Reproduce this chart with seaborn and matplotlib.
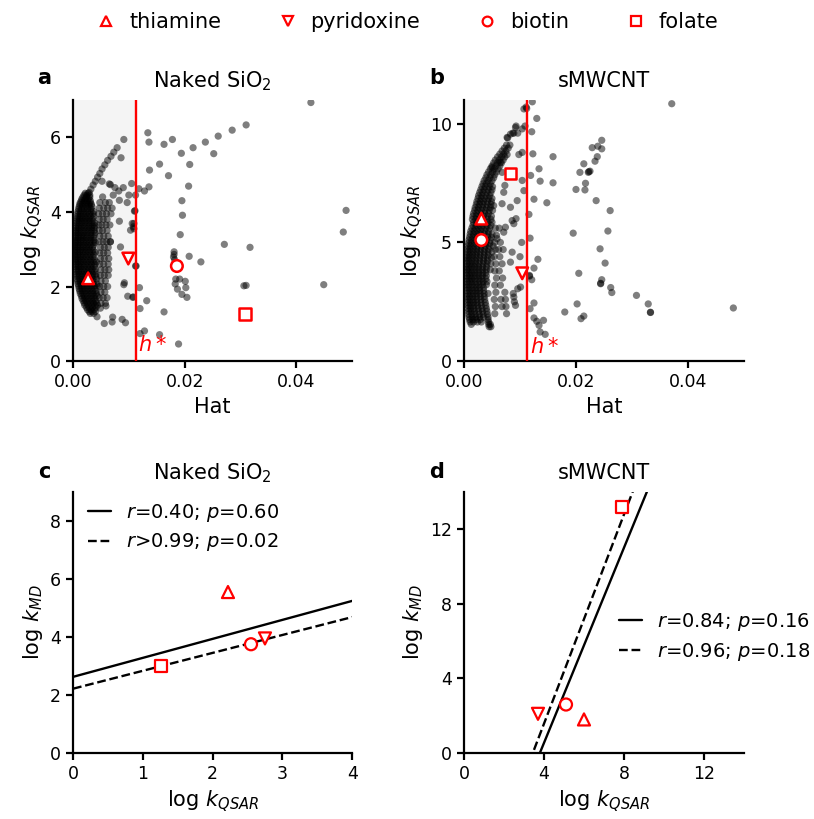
import matplotlib

matplotlib.use("Agg")

import matplotlib.pyplot as plt
from matplotlib.lines import Line2D
import numpy as np
import pandas as pd
import seaborn as sns


VITAMINS = ["thiamine", "pyridoxine", "biotin", "folate"]
MARKERS = {"thiamine": "^", "pyridoxine": "v", "biotin": "o", "folate": "s"}

# vitamins: hat and log k_QSAR (panels a/b), log k_MD (panels c/d)
SIO2_HAT = [0.0027, 0.0099, 0.0186, 0.0308]
SIO2_QSAR = [2.22, 2.75, 2.55, 1.26]
SIO2_MD = [5.55, 3.95, 3.75, 3.00]
CNT_HAT = [0.0031, 0.0104, 0.0031, 0.0083]
CNT_QSAR = [6.00, 3.70, 5.10, 7.90]
CNT_MD = [1.80, 2.10, 2.60, 13.20]
H_STAR = 0.0112

SIO2_LABELS = ["$r$=0.40; $p$=0.60", "$r$>0.99; $p$=0.02"]
CNT_LABELS = ["$r$=0.84; $p$=0.16", "$r$=0.96; $p$=0.18"]

# training chemicals, hat in units of 1e-3, grouped by log k_QSAR rows
SIO2_CORE = [
    (4.50, [2.2, 2.7]),
    (4.45, [2.0, 2.5, 3.0]),
    (4.40, [1.8, 2.4, 3.0]),
    (4.35, [1.6, 2.2, 2.8]),
    (4.30, [1.5, 2.0, 2.6, 3.1]),
    (4.25, [1.3, 1.9, 2.5, 3.1]),
    (4.20, [1.2, 1.7, 2.3, 2.9, 3.3]),
    (4.14, [1.1, 1.7, 2.3, 2.9, 3.4]),
    (4.08, [1.0, 1.5, 2.0, 2.6, 3.2]),
    (4.01, [0.9, 1.4, 2.0, 2.6, 3.2, 3.7]),
    (3.95, [0.8, 1.3, 1.9, 2.4, 3.0, 3.6]),
    (3.88, [0.8, 1.3, 1.9, 2.5, 3.1, 3.7]),
    (3.82, [0.7, 1.2, 1.7, 2.3, 2.9, 3.5]),
    (3.76, [0.6, 1.1, 1.7, 2.3, 2.9, 3.5]),
    (3.70, [0.6, 1.1, 1.6, 2.2, 2.8, 3.4, 3.9]),
    (3.63, [0.5, 1.0, 1.6, 2.2, 2.8, 3.4, 3.9]),
    (3.57, [0.5, 1.0, 1.5, 2.1, 2.7, 3.3, 3.8]),
    (3.50, [0.4, 0.9, 1.5, 2.1, 2.7, 3.3, 3.8]),
    (3.44, [0.5, 0.9, 1.4, 2.0, 2.6, 3.2, 3.9]),
    (3.37, [0.4, 0.9, 1.5, 2.0, 2.6, 3.2, 3.8]),
    (3.31, [0.4, 0.9, 1.4, 1.9, 2.5, 3.1, 3.7]),
    (3.24, [0.3, 0.8, 1.4, 1.9, 2.5, 3.1, 3.7]),
    (3.18, [0.4, 0.8, 1.3, 1.9, 2.4, 3.0, 3.6, 4.0]),
    (3.11, [0.3, 0.8, 1.3, 1.9, 2.5, 3.1, 3.7]),
    (3.05, [0.3, 0.8, 1.3, 1.8, 2.4, 2.9, 3.5]),
    (2.98, [0.3, 0.7, 1.3, 1.8, 2.4, 3.0, 3.6]),
    (2.92, [0.3, 0.8, 1.2, 1.8, 2.3, 2.9, 3.5, 4.0]),
    (2.85, [0.3, 0.8, 1.3, 1.9, 2.5, 3.1, 3.7]),
    (2.79, [0.4, 0.8, 1.3, 1.8, 2.4, 3.0, 3.6]),
    (2.72, [0.4, 0.8, 1.4, 2.0, 2.6, 3.2, 3.8]),
    (2.66, [0.4, 0.9, 1.4, 1.9, 2.5, 3.1, 3.7, 4.2]),
    (2.59, [0.4, 0.9, 1.5, 2.1, 2.7, 3.3, 3.9]),
    (2.53, [0.5, 1.0, 1.4, 2.0, 2.6, 3.2, 3.8]),
    (2.46, [0.5, 1.0, 1.6, 2.2, 2.8, 3.4, 4.0]),
    (2.40, [0.6, 1.0, 1.5, 2.1, 2.7, 3.3, 3.9]),
    (2.33, [0.6, 1.1, 1.7, 2.3, 2.9, 3.5, 4.1]),
    (2.27, [0.7, 1.1, 1.6, 2.2, 2.8, 3.4, 4.1]),
    (2.20, [0.7, 1.2, 1.8, 2.4, 3.0, 3.6, 4.2]),
    (2.14, [0.8, 1.3, 1.8, 2.4, 3.0, 3.6]),
    (2.07, [0.9, 1.4, 1.9, 2.5, 3.1, 3.7, 4.3]),
    (2.01, [1.0, 1.5, 2.0, 2.6, 3.2, 3.8, 4.3]),
    (1.94, [1.1, 1.6, 2.1, 2.7, 3.3, 3.9]),
    (1.88, [1.2, 1.7, 2.3, 2.9, 3.5, 4.1]),
    (1.81, [1.3, 1.8, 2.4, 3.0, 3.6, 4.2]),
    (1.75, [1.5, 2.0, 2.6, 3.2, 3.8, 4.3]),
    (1.68, [1.6, 2.1, 2.7, 3.3, 3.9]),
    (1.62, [1.8, 2.3, 2.9, 3.5, 4.1]),
    (1.56, [2.0, 2.5, 3.1, 3.7, 4.2]),
    (1.50, [2.1, 2.7, 3.3, 3.9, 4.4]),
    (1.44, [2.4, 2.9, 3.5, 4.1]),
    (1.38, [2.6, 3.2, 3.8]),
    (1.33, [2.9, 3.4, 4.0]),
    (1.28, [3.1, 3.7]),
]
SIO2_BAND = [
    (4.40, [5.3]),
    (4.25, [4.8, 5.8, 6.5]),
    (4.10, [4.7, 5.5, 6.2, 7.0]),
    (3.95, [4.6, 5.3, 6.0, 6.8]),
    (3.80, [4.7, 5.4, 6.1]),
    (3.65, [4.6, 5.2, 5.9, 6.6]),
    (3.50, [4.7, 5.3, 6.1]),
    (3.35, [4.8, 5.5, 6.3]),
    (3.20, [4.7, 5.4, 6.0, 6.7]),
    (3.05, [4.9, 5.6, 6.3]),
    (2.90, [4.8, 5.5, 6.2]),
    (2.75, [4.9, 5.6, 6.4]),
    (2.60, [4.8, 5.5, 6.3]),
    (2.45, [5.0, 5.7, 6.4]),
    (2.30, [4.9, 5.6, 6.3]),
    (2.15, [5.0, 5.8]),
    (2.00, [4.8, 5.5, 6.2]),
    (1.85, [5.0, 5.7]),
    (1.70, [4.7, 5.4, 6.1]),
    (1.55, [5.0, 5.8]),
    (1.42, [4.9]),
]
SIO2_SPARSE_HAT = [
    7.9, 7.3, 6.8, 6.2, 5.7, 5.2, 4.8, 4.4, 4.0, 3.6, 3.2, 2.9,
    9.1, 8.6, 5.2, 6.7, 8.2, 10.5, 10.0, 8.3, 9.7, 11.0, 8.3, 10.6, 10.3, 8.5,
    6.7, 11.3, 9.2, 9.8, 10.7, 5.9, 4.3, 5.6, 7.1, 8.8, 9.4, 7.0, 7.5, 6.5,
    9.0, 7.2, 9.1,
    42.6, 31.0, 28.5, 26.0, 23.7, 21.5, 19.4, 17.8, 16.3, 13.6, 13.4, 25.2,
    20.9, 15.5, 17.1, 13.7, 13.6, 20.7, 19.5, 19.6, 19.2, 12.8, 11.8, 11.2,
    11.1, 10.9, 10.8, 10.9, 18.1, 18.1, 18.0, 18.2, 18.4, 19.1, 20.1, 18.3,
    20.2, 18.7, 19.5, 20.4, 20.8, 22.9, 27.1, 31.7, 48.9, 48.4, 44.9, 31.0,
    30.6, 11.2, 11.9, 10.8, 13.2, 12.0, 16.3, 12.8, 12.0, 15.5, 18.9,
]
SIO2_SPARSE_LOGK = [
    5.72, 5.60, 5.49, 5.38, 5.26, 5.15, 5.03, 4.93, 4.82, 4.72, 4.61, 4.52,
    5.94, 5.45, 4.82, 4.73, 4.56, 4.76, 4.45, 4.31, 4.25, 4.02, 3.75, 3.69, 3.51, 3.06,
    3.20, 2.55, 2.10, 1.74, 1.71, 1.48, 1.19, 1.01, 1.18, 1.12, 1.03, 1.05, 4.65, 4.75,
    4.65, 4.45, 2.05,
    6.93, 6.33, 6.19, 6.03, 5.87, 5.72, 5.57, 5.94, 5.81, 5.87, 6.12, 5.56,
    5.27, 5.28, 4.97, 5.12, 4.67, 4.69, 4.30, 3.91, 3.39, 4.56, 4.62, 4.45,
    4.03, 3.69, 3.60, 3.55, 2.93, 2.86, 2.79, 2.72, 2.20, 2.20, 2.14, 2.07,
    1.97, 1.93, 1.79, 1.71, 2.81, 2.66, 3.13, 3.05, 4.04, 3.46, 2.05, 2.03,
    2.02, 2.55, 1.97, 1.72, 1.62, 1.41, 1.32, 0.81, 0.74, 0.71, 0.46,
]

CNT_CORE = [
    (9.10, [7.6, 8.2]),
    (8.97, [7.2, 7.9]),
    (8.85, [6.8, 7.5]),
    (8.72, [6.4, 7.1]),
    (8.60, [6.0, 6.7, 7.3]),
    (8.47, [5.6, 6.3, 7.0]),
    (8.35, [5.3, 6.0, 6.7]),
    (8.22, [5.0, 5.7, 6.4]),
    (8.10, [4.7, 5.4, 6.1]),
    (7.97, [4.4, 5.1, 5.8]),
    (7.85, [4.1, 4.8, 5.5]),
    (7.72, [3.9, 4.6, 5.3]),
    (7.60, [3.6, 4.3, 5.0]),
    (7.47, [3.4, 4.0, 4.7]),
    (7.35, [3.2, 3.8, 4.5, 5.1]),
    (7.22, [3.0, 3.6, 4.3, 5.0]),
    (7.10, [2.8, 3.4, 4.1, 4.8]),
    (6.97, [2.6, 3.2, 3.9, 4.6]),
    (6.85, [2.5, 3.1, 3.7, 4.4, 5.0]),
    (6.72, [2.3, 2.9, 3.5, 4.2, 4.9]),
    (6.60, [2.2, 2.8, 3.4, 4.1, 4.8]),
    (6.47, [2.0, 2.6, 3.3, 4.0, 4.7]),
    (6.35, [1.9, 2.5, 3.1, 3.8, 4.5, 5.1]),
    (6.22, [1.7, 2.3, 3.0, 3.7, 4.4]),
    (6.10, [1.6, 2.2, 2.8, 3.5, 4.2, 4.9]),
    (5.97, [1.5, 2.1, 2.7, 3.4, 4.1, 4.8]),
    (5.85, [1.7, 2.3, 2.9, 3.6, 4.3, 5.0]),
    (5.72, [1.6, 2.2, 2.8, 3.4, 4.1, 4.8]),
    (5.60, [1.4, 2.0, 2.6, 3.2, 3.9, 4.6]),
    (5.47, [1.2, 1.8, 2.4, 3.0, 3.7, 4.4]),
    (5.35, [1.1, 1.7, 2.3, 2.9, 3.6, 4.3, 5.0]),
    (5.22, [1.0, 1.6, 2.2, 2.8, 3.5, 4.2, 4.9]),
    (5.10, [0.9, 1.4, 2.0, 2.7, 3.3, 4.0, 4.7]),
    (4.97, [0.8, 1.3, 1.9, 2.6, 3.2, 3.9, 4.6]),
    (4.85, [0.7, 1.2, 1.8, 2.4, 3.1, 3.8, 4.5, 5.2]),
    (4.72, [0.6, 1.1, 1.7, 2.3, 3.0, 3.7, 4.4]),
    (4.60, [0.6, 1.1, 1.7, 2.3, 2.9, 3.6, 4.3, 5.0]),
    (4.47, [0.5, 1.0, 1.6, 2.2, 2.9, 3.6, 4.3]),
    (4.35, [0.5, 1.0, 1.6, 2.2, 2.8, 3.5, 4.2, 4.9]),
    (4.22, [0.4, 0.9, 1.5, 2.1, 2.8, 3.5, 4.2]),
    (4.10, [0.5, 1.0, 1.5, 2.1, 2.7, 3.4, 4.1, 4.8]),
    (3.97, [0.4, 0.9, 1.4, 2.0, 2.6, 3.3, 4.0]),
    (3.85, [0.5, 0.9, 1.5, 2.1, 2.7, 3.3, 4.0, 4.7]),
    (3.72, [0.4, 0.9, 1.4, 2.0, 2.6, 3.3, 3.9]),
    (3.60, [0.5, 1.0, 1.5, 2.1, 2.7, 3.3, 4.0]),
    (3.47, [0.4, 0.9, 1.4, 2.0, 2.6, 3.2, 3.9]),
    (3.35, [0.5, 1.0, 1.5, 2.1, 2.8, 3.4, 4.1]),
    (3.22, [0.4, 0.9, 1.5, 2.1, 2.7, 3.3, 4.0]),
    (3.10, [0.5, 1.0, 1.6, 2.2, 2.8, 3.5]),
    (2.97, [0.5, 1.0, 1.6, 2.2, 2.8, 3.5]),
    (2.85, [0.6, 1.1, 1.7, 2.3, 2.9, 3.6, 4.3]),
    (2.72, [0.5, 1.0, 1.6, 2.2, 2.9, 3.6]),
    (2.60, [0.6, 1.1, 1.7, 2.3, 3.0, 3.7]),
    (2.47, [0.6, 1.1, 1.7, 2.3, 3.0, 3.8]),
    (2.35, [0.7, 1.2, 1.8, 2.4, 3.1, 3.9]),
    (2.22, [0.7, 1.2, 1.8, 2.5, 3.2, 4.0]),
    (2.10, [0.8, 1.3, 1.9, 2.6, 3.3, 4.1]),
    (1.97, [0.8, 1.4, 2.0, 2.7, 3.4, 4.2]),
    (1.85, [0.9, 1.5, 2.1, 2.8, 3.5, 4.3]),
    (1.75, [1.0, 1.6, 2.2, 2.9, 4.3]),
    (1.65, [1.1, 1.7, 2.4, 3.1, 4.4]),
    (1.55, [1.3, 4.4, 4.7]),
    (1.45, [4.5, 4.8]),
]
CNT_BAND = [
    (5.60, [5.6, 6.3]),
    (5.30, [5.8]),
    (5.00, [5.5, 6.5]),
    (4.70, [5.6, 6.2, 7.0]),
    (4.40, [5.4, 6.4]),
    (4.10, [5.7, 6.8]),
    (3.80, [5.5, 6.3]),
    (3.50, [5.8, 6.9]),
    (3.20, [5.5, 6.5]),
    (2.90, [5.7, 7.3]),
    (2.60, [5.4, 6.6, 7.4]),
    (2.30, [5.6, 6.8, 7.5]),
    (2.00, [5.5, 7.6]),
]
CNT_SPARSE_HAT = [
    10.7, 9.2, 10.4, 7.7, 8.3, 10.4, 6.5, 6.8, 5.0, 10.4, 10.7, 9.5, 7.1, 6.8,
    8.3, 5.3, 8.6, 7.4, 8.9, 7.1, 5.9, 8.6, 8.3, 10.1, 8.9, 9.2, 8.8, 9.0, 9.6,
    10.0, 10.3, 9.8, 10.9, 8.9, 7.3, 7.7, 9.3, 9.3, 8.7, 7.8, 9.6, 11.1,
    37.1, 12.2, 11.2, 13.0, 12.1, 12.3, 15.9, 13.4, 11.9, 13.6, 15.9, 12.5,
    14.8, 11.6, 11.8, 13.2, 12.5, 11.7, 11.7, 12.1, 12.5, 11.8, 12.5, 13.0,
    13.4, 14.2, 13.6, 14.5, 18.0, 20.2, 20.9, 21.4, 19.5, 20.5, 20.0, 21.6,
    21.7, 20.7, 21.4, 22.2, 22.5, 22.3, 23.4, 23.8, 22.9, 23.9, 24.6, 24.6,
    23.6, 26.1, 25.7, 24.3, 25.2, 24.6, 24.4, 24.4, 26.2, 26.4, 30.8, 32.9,
    33.3, 33.3, 48.1,
]
CNT_SPARSE_LOGK = [
    10.62, 9.84, 9.78, 9.42, 9.56, 8.79, 8.37, 7.95, 8.16, 7.61, 7.18, 6.76, 7.11, 6.63,
    6.48, 6.55, 5.92, 5.64, 5.79, 5.43, 5.16, 4.59, 4.17, 3.12, 2.70, 2.35, 2.85, 2.50, 3.05,
    4.40, 5.00, 8.70, 9.90, 9.60, 7.40, 8.70, 6.00, 9.90, 9.60, 9.40, 9.60, 10.70,
    10.84, 10.92, 10.64, 10.22, 9.66, 8.73, 8.61, 8.10, 7.82, 7.58, 7.51, 6.82,
    6.67, 6.18, 5.18, 4.29, 3.92, 3.61, 3.58, 3.43, 2.45, 2.21, 1.82, 1.68,
    1.51, 1.72, 1.23, 1.13, 2.07, 2.41, 1.79, 1.90, 5.39, 3.70, 7.23, 7.21,
    7.49, 7.95, 8.31, 7.95, 8.00, 7.98, 8.42, 8.61, 8.99, 9.05, 8.94, 9.30,
    6.76, 6.34, 5.48, 4.73, 4.13, 3.43, 3.26, 3.28, 3.10, 2.89, 2.77, 2.41,
    2.05, 2.06, 2.24,
]

FS = 15
LEG_FS = 14
TICK_FS = 12.5


def expand(rows, sparse_hat, sparse_logk):
    hat, logk = [], []
    for y, xs in rows:
        hat += [x * 1e-3 for x in xs]
        logk += [y] * len(xs)
    hat += [x * 1e-3 for x in sparse_hat]
    logk += list(sparse_logk)
    return pd.DataFrame({"hat": hat, "logk": logk})


def style_axes(ax):
    sns.despine(ax=ax)
    for side in ["left", "bottom"]:
        ax.spines[side].set_linewidth(1.6)
    ax.tick_params(width=1.6, length=5, labelsize=TICK_FS)


def plot_williams(ax, train, vit_hat, vit_qsar, ylim, yticks, title, hs_y):
    ax.axvspan(0, H_STAR, color="#f4f4f4", lw=0, zorder=0)
    sns.scatterplot(data=train, x="hat", y="logk", color="black", alpha=0.5,
                    s=27, edgecolor="none", ax=ax, zorder=2)
    ax.axvline(H_STAR, color="red", lw=1.7, zorder=3)
    vit = pd.DataFrame({"vitamin": VITAMINS, "hat": vit_hat, "qsar": vit_qsar})
    sns.scatterplot(data=vit, x="hat", y="qsar", style="vitamin", markers=MARKERS,
                    color="white", edgecolor="red", linewidth=1.8, s=70,
                    legend=False, ax=ax, zorder=4)
    ax.text(H_STAR + 0.0005, hs_y, "$h*$", color="red", fontsize=FS, va="center")
    ax.set_xlim(0, 0.05)
    ax.set_ylim(*ylim)
    ax.set_xticks([0, 0.02, 0.04])
    ax.set_xticklabels(["0.00", "0.02", "0.04"])
    ax.set_yticks(yticks)
    ax.set_xlabel("Hat", fontsize=FS)
    ax.set_ylabel("log $k_{QSAR}$", fontsize=FS)
    ax.set_title(title, fontsize=FS, pad=9)
    style_axes(ax)


def plot_md(ax, qsar, md, lim, ticks, labels, title, legend_kw):
    vit = pd.DataFrame({"vitamin": VITAMINS, "qsar": qsar, "md": md})
    ax.set_xlim(*lim[0])
    ax.set_ylim(*lim[1])
    xs = np.array(lim[0], dtype=float)
    # all four vitamins (solid) and without thiamine (dashed)
    slope, icpt = np.polyfit(vit["qsar"], vit["md"], 1)
    sub = vit[vit["vitamin"] != "thiamine"]
    slope2, icpt2 = np.polyfit(sub["qsar"], sub["md"], 1)
    sns.lineplot(x=xs, y=icpt + slope * xs, color="black", lw=1.7, ax=ax, label=labels[0])
    sns.lineplot(x=xs, y=icpt2 + slope2 * xs, color="black", lw=1.7, ls="--", ax=ax, label=labels[1])
    sns.scatterplot(data=vit, x="qsar", y="md", style="vitamin", markers=MARKERS,
                    color="white", edgecolor="red", linewidth=1.6, s=75,
                    legend=False, ax=ax, zorder=4)
    ax.set_xticks(ticks[0])
    ax.set_yticks(ticks[1])
    ax.set_xlabel("log $k_{QSAR}$", fontsize=FS)
    ax.set_ylabel("log $k_{MD}$", fontsize=FS)
    ax.set_title(title, fontsize=FS, pad=9)
    ax.legend(frameon=False, fontsize=LEG_FS, handlelength=1.2, handletextpad=0.75,
              labelspacing=0.4, **legend_kw)
    style_axes(ax)


def main():
    sns.set_style("ticks", {"axes.edgecolor": "black", "xtick.color": "black",
                            "ytick.color": "black", "text.color": "black",
                            "axes.labelcolor": "black"})
    plt.rcParams["font.family"] = ["DejaVu Sans"]

    fig = plt.figure(figsize=(8.14, 8.19), dpi=100)
    ax_a = fig.add_axes([0.0897, 0.559, 0.343, 0.319])
    ax_b = fig.add_axes([0.570, 0.559, 0.344, 0.319])
    ax_c = fig.add_axes([0.0897, 0.0806, 0.343, 0.3187])
    ax_d = fig.add_axes([0.570, 0.0806, 0.344, 0.3187])

    sio2 = expand(SIO2_CORE + SIO2_BAND, SIO2_SPARSE_HAT, SIO2_SPARSE_LOGK)
    cnt = expand(CNT_CORE + CNT_BAND, CNT_SPARSE_HAT, CNT_SPARSE_LOGK)

    plot_williams(ax_a, sio2, SIO2_HAT, SIO2_QSAR, (0, 7), [0, 2, 4, 6], "Naked SiO$_2$", 0.43)
    plot_williams(ax_b, cnt, CNT_HAT, CNT_QSAR, (0, 11), [0, 5, 10], "sMWCNT", 0.6)
    plot_md(ax_c, SIO2_QSAR, SIO2_MD, [(0, 4), (0, 9)], [[0, 1, 2, 3, 4], [0, 2, 4, 6, 8]],
            SIO2_LABELS, "Naked SiO$_2$", {"loc": "upper left", "bbox_to_anchor": (-0.01, 1.03)})
    plot_md(ax_d, CNT_QSAR, CNT_MD, [(0, 14), (0, 14)], [[0, 4, 8, 12], [0, 4, 8, 12]],
            CNT_LABELS, "sMWCNT", {"loc": "center left", "bbox_to_anchor": (0.49, 0.445)})

    for letter, x, y in [("a", 0.054, 0.905), ("b", 0.537, 0.905), ("c", 0.054, 0.424), ("d", 0.536, 0.424)]:
        fig.text(x, y, letter, fontsize=FS, fontweight="bold", ha="center", va="center")

    handles = [Line2D([], [], marker=MARKERS[v], ls="none", mec="red", mfc="white",
                      mew=1.6, ms=7) for v in VITAMINS]
    fig.legend(handles, VITAMINS, loc="center", bbox_to_anchor=(0.5, 0.973), ncol=4,
               frameon=False, fontsize=FS, handlelength=1.0, handletextpad=0.6,
               columnspacing=2.7)

    fig.savefig("out.png", dpi=100)
    plt.close(fig)


if __name__ == "__main__":
    main()
